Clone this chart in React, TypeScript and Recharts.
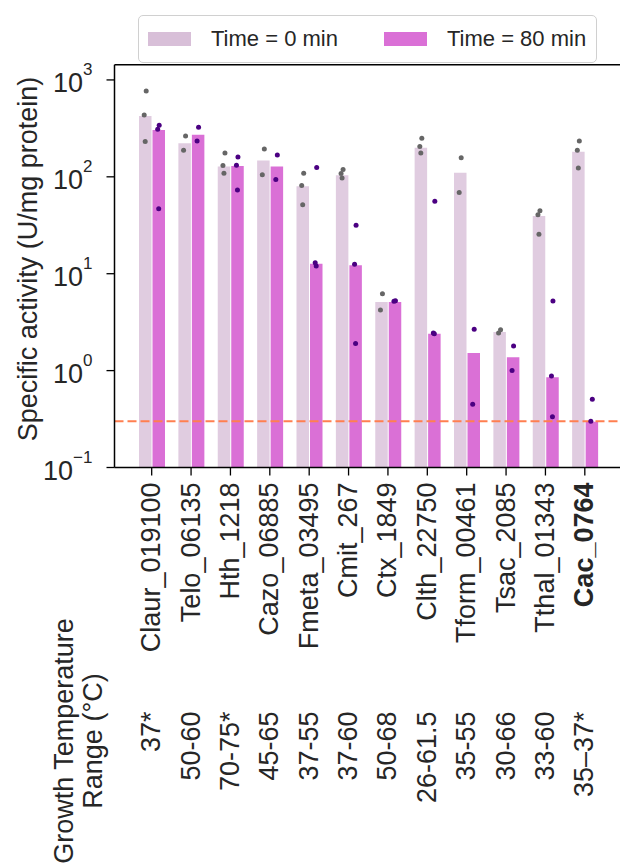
import { ComposedChart, Bar, Scatter, XAxis, YAxis, ReferenceLine, Legend } from "recharts";

// enzyme / gene names on the x axis
const GENES = [
  "Claur_019100",
  "Telo_06135",
  "Hth_1218",
  "Cazo_06885",
  "Fmeta_03495",
  "Cmit_267",
  "Ctx_1849",
  "Clth_22750",
  "Tform_00461",
  "Tsac_2085",
  "Tthal_01343",
  "Cac_0764",
];
// growth temperature of the source organism (°C)
const TEMPS = ["37*", "50-60", "70-75*", "45-65", "37-55", "37-60", "50-68", "26-61.5", "35-55", "30-66", "33-60", "35–37*"];
const HIGHLIGHT = "Cac_0764";

// bar heights (U/mg protein)
const T0_MEAN = [424, 222, 128, 147, 80, 104, 5.1, 200, 110, 2.5, 39.4, 181];
const T80_MEAN = [304, 272, 129, 128, 12.7, 12.2, 5.1, 2.4, 1.52, 1.37, 0.853, 0.297];

// replicates, time = 0 min
const T0_R1 = [768, 264, 176, 194, 109, 119, 6.22, 250, 157, 2.64, 44.6, 234];
const T0_R2 = [435, 188, 131, 105, 81.6, 108, 4.22, 205, 69, 2.45, 40.6, 188];
const T0_R3 = [232, null, 109, null, 51.5, 97, null, 176, null, null, 25.5, 123];
// replicates, time = 80 min
const T80_R1 = [340, 324, 160, 168, 125, 31.6, 5.27, 55.8, 2.67, 1.79, 5.22, 0.506];
const T80_R2 = [309, 234, 132, 94, 13.0, 12.5, 5.2, 2.45, 0.449, 1.0, 0.88, 0.3];
const T80_R3 = [46.9, null, 73, null, 12.0, 1.91, null, 2.4, null, null, 0.334, null];

const THRESHOLD = 0.3;
const Y_MIN = 0.1;
const Y_MAX = 1436;
const Y_TICKS = [0.1, 1, 10, 100, 1000];

const FONT = "'Liberation Sans', Arial, sans-serif";
const TEXT = "#262626";
const LIGHT = "#e0cce0";
const DARK = "#da70d6";

const data = GENES.map((name, i) => ({
  name,
  t0: T0_MEAN[i],
  t80: T80_MEAN[i],
  t0a: T0_R1[i],
  t0b: T0_R2[i],
  t0c: T0_R3[i],
  t80a: T80_R1[i],
  t80b: T80_R2[i],
  t80c: T80_R3[i],
}));

const dot = (key: string, color: string, shift: number) => (p: any) => {
  if (p.payload?.[key] == null || !isFinite(p.cy)) return <g />;
  return <circle cx={p.cx + shift} cy={p.cy} r={2.5} fill={color} />;
};

function GeneTick(props: any) {
  const { x, y, payload } = props;
  const i = props.index ?? payload.index;
  const name = payload.value;
  return (
    <g fontFamily={FONT} fontSize={27} fill={TEXT}>
      <text
        x={x}
        y={y}
        dy={8.5}
        textAnchor="end"
        fontWeight={name === HIGHLIGHT ? "bold" : "normal"}
        transform={`rotate(-90 ${x} ${y})`}
      >
        {name}
      </text>
      <text x={x} y={y + 229} dy={8.5} textAnchor="end" transform={`rotate(-90 ${x} ${y + 229})`}>
        {TEMPS[i]}
      </text>
    </g>
  );
}

function PowTick({ x, y, payload }: any) {
  const e = Math.round(Math.log10(payload.value));
  return (
    <text x={x} y={y} dy={12} textAnchor="end" fontSize={27} fill={TEXT} fontFamily={FONT}>
      <tspan>10</tspan>
      <tspan fontSize={17} dy={-16.5}>
        {e < 0 ? "\u2212" + -e : e}
      </tspan>
    </text>
  );
}

const tempTitle = () => (
  <text
    x={73}
    y={741}
    textAnchor="middle"
    fontSize={27}
    fill={TEXT}
    fontFamily={FONT}
    transform="rotate(-90 73 741)"
  >
    <tspan>Growth Temperature</tspan>
    <tspan x={73} dy={28.5}>
      Range (°C)
    </tspan>
  </text>
);

const yTitle = () => (
  <text x={37} y={259} textAnchor="middle" fontSize={27} fill={TEXT} fontFamily={FONT} transform="rotate(-90 37 259)">
    Specific activity (U/mg protein)
  </text>
);

function LegendBox({ payload }: any) {
  const items = (payload || []).filter((p: any) => p.dataKey === "t0" || p.dataKey === "t80");
  return (
    <div
      style={{
        boxSizing: "border-box",
        width: 459,
        height: 48,
        border: "1px solid #d0d0d0",
        borderRadius: 5,
        background: "#fff",
        display: "flex",
        alignItems: "center",
        paddingLeft: 9,
        fontFamily: FONT,
        fontSize: 22,
        color: TEXT,
      }}
    >
      {items.map((it: any, k: number) => (
        <div key={it.dataKey} style={{ display: "flex", alignItems: "center", marginRight: k === 0 ? 46 : 0 }}>
          <span
            style={{
              display: "inline-block",
              width: 43,
              height: 14,
              background: it.dataKey === "t0" ? "#d8bfd8" : DARK,
              marginRight: 20,
            }}
          />
          <span>{it.value}</span>
        </div>
      ))}
    </div>
  );
}

export default function App() {
  return (
    <div style={{ position: "absolute", left: 0, top: 0, background: "#fff" }}>
      <ComposedChart
        width={620}
        height={868}
        data={data}
        margin={{ top: 64.7, right: 0, bottom: 0, left: 0 }}
        barSize={12.5}
        barGap={1}
      >
        <XAxis
          dataKey="name"
          type="category"
          interval={0}
          height={400.5}
          padding={{ left: 17.5, right: 15.5 }}
          axisLine={{ stroke: "#000", strokeWidth: 1.5 }}
          tickLine={{ stroke: "#000", strokeWidth: 1.3 }}
          tickSize={8}
          tickMargin={7}
          tick={<GeneTick />}
          label={tempTitle}
        />
        <YAxis
          type="number"
          scale="log"
          domain={[Y_MIN, Y_MAX]}
          allowDataOverflow
          ticks={Y_TICKS}
          interval={0}
          width={114.5}
          axisLine={{ stroke: "#000", strokeWidth: 1.5 }}
          tickLine={{ stroke: "#000", strokeWidth: 1.3 }}
          tickSize={8}
          tickMargin={14}
          tick={<PowTick />}
          label={yTitle}
        />
        <Legend
          verticalAlign="middle"
          layout="horizontal"
          wrapperStyle={{ top: 15, left: 138, width: 459, height: 48 }}
          content={<LegendBox />}
        />
        <Bar dataKey="t0" name="Time = 0 min" fill={LIGHT} isAnimationActive={false} />
        <Bar dataKey="t80" name="Time = 80 min" fill={DARK} isAnimationActive={false} />
        <Scatter dataKey="t0a" legendType="none" shape={dot("t0a", "#666666", -5.5)} isAnimationActive={false} />
        <Scatter dataKey="t0b" legendType="none" shape={dot("t0b", "#666666", -7.5)} isAnimationActive={false} />
        <Scatter dataKey="t0c" legendType="none" shape={dot("t0c", "#666666", -6.5)} isAnimationActive={false} />
        <Scatter dataKey="t80a" legendType="none" shape={dot("t80a", "#4b0082", 7.5)} isAnimationActive={false} />
        <Scatter dataKey="t80b" legendType="none" shape={dot("t80b", "#4b0082", 6)} isAnimationActive={false} />
        <Scatter dataKey="t80c" legendType="none" shape={dot("t80c", "#4b0082", 7)} isAnimationActive={false} />
        <ReferenceLine y={THRESHOLD} stroke="#ff7f50" strokeWidth={2} strokeDasharray="9 4" />
        <ReferenceLine y={Y_MAX} stroke="#000" strokeWidth={1.5} />
      </ComposedChart>
    </div>
  );
}
